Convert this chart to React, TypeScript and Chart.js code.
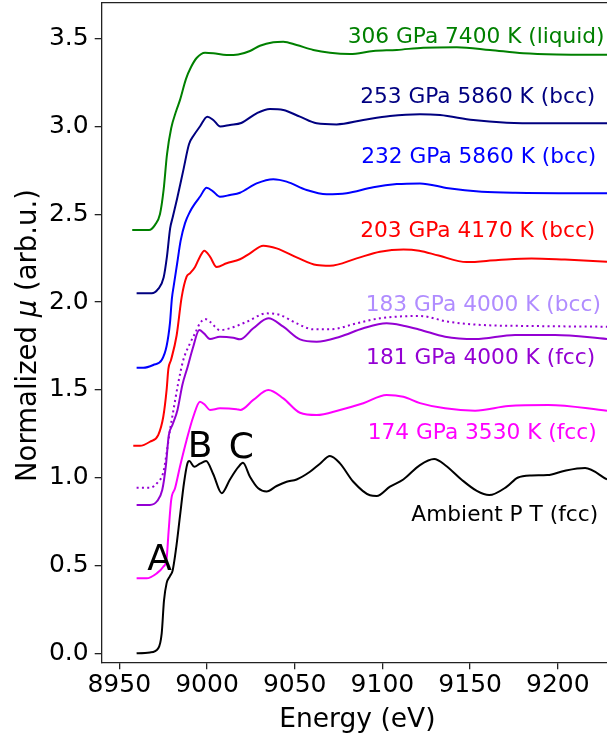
import React, { useEffect, useRef } from "react";
import { Chart, registerables } from "chart.js";

Chart.register(...registerables);

const FONT = '"DejaVu Sans", "Liberation Sans", sans-serif';

// Axis ticks
const xTicks = [8950, 9000, 9050, 9100, 9150, 9200];
const yTicks = [0, 0.5, 1, 1.5, 2, 2.5, 3, 3.5];

// 306 GPa 7400 K (liquid)
const e306 = [8957.4, 8967, 8970.4, 8973.2, 8975.3, 8977.2, 8979.6, 8982.5, 8984.6, 8988, 8991, 8994.1, 8998.9, 9003.6, 9011.2, 9017.8, 9024.5, 9030.2, 9037.8, 9043.5, 9051.1, 9060.6, 9070.1, 9081.5, 9094.8, 9108.2, 9123.3, 9142.4, 9161.3, 9180.3, 9199.4, 9228];
const mu306 = [2.41, 2.41, 2.44, 2.5, 2.64, 2.84, 2.99, 3.09, 3.15, 3.27, 3.34, 3.39, 3.42, 3.417, 3.407, 3.41, 3.43, 3.46, 3.48, 3.483, 3.464, 3.436, 3.42, 3.413, 3.43, 3.436, 3.449, 3.452, 3.436, 3.417, 3.41, 3.408];

// 253 GPa 5860 K (bcc)
const e253 = [8959.9, 8968.5, 8972.2, 8975.3, 8977.2, 8979, 8980.4, 8983, 8986.5, 8989.8, 8992.5, 8996, 9000.2, 9003.6, 9007.6, 9013.1, 9019.5, 9028.3, 9035.9, 9043.5, 9053, 9062.5, 9073.9, 9089.1, 9104.3, 9121.4, 9132.8, 9151.8, 9170.9, 9189.9, 9228];
const mu253 = [2.05, 2.05, 2.075, 2.14, 2.26, 2.42, 2.48, 2.59, 2.75, 2.9, 2.95, 3.0, 3.056, 3.037, 3.0, 3.009, 3.02, 3.075, 3.1, 3.094, 3.056, 3.018, 3.012, 3.037, 3.06, 3.07, 3.065, 3.037, 3.022, 3.018, 3.018];

// 232 GPa 5860 K (bcc)
const e232 = [8959.9, 8963.7, 8969.4, 8974.2, 8977, 8978.9, 8980, 8981, 8983, 8985, 8987.5, 8990.3, 8993.2, 8996, 8999.8, 9003.6, 9007.4, 9013.1, 9018.8, 9028.3, 9037.8, 9045.4, 9056.8, 9068.2, 9079.6, 9094.8, 9108.2, 9121.4, 9137.6, 9156.6, 9175.6, 9228];
const mu232 = [1.626, 1.626, 1.642, 1.67, 1.75, 1.88, 2.02, 2.09, 2.22, 2.35, 2.45, 2.515, 2.562, 2.6, 2.651, 2.629, 2.6, 2.61, 2.623, 2.676, 2.7, 2.686, 2.638, 2.614, 2.62, 2.654, 2.672, 2.676, 2.648, 2.629, 2.623, 2.62];

// 203 GPa 4170 K (bcc)
const e203 = [8958, 8961.8, 8967.5, 8972.2, 8975.1, 8977, 8978, 8979.5, 8982.7, 8985.6, 8988.4, 8990.3, 8993.2, 8996, 8998.5, 9001.7, 9005.5, 9011.2, 9018.8, 9024.5, 9032.1, 9039.7, 9051.1, 9062.5, 9070.1, 9085.3, 9098.6, 9112, 9121, 9132, 9148, 9166, 9185, 9204, 9228];
const mu203 = [1.182, 1.182, 1.205, 1.243, 1.347, 1.5, 1.62, 1.67, 1.81, 2.03, 2.145, 2.164, 2.2, 2.259, 2.293, 2.259, 2.2, 2.221, 2.244, 2.278, 2.321, 2.306, 2.255, 2.211, 2.207, 2.249, 2.287, 2.3, 2.293, 2.265, 2.228, 2.24, 2.249, 2.242, 2.23];

// 183 GPa 4000 K (bcc) - dotted
const e183 = [8959.9, 8967.5, 8972.2, 8975.1, 8977, 8978.9, 8980.8, 8983.6, 8986.5, 8990.3, 8993.2, 8996, 8998.9, 9001.7, 9007.4, 9013.1, 9022.6, 9034, 9041.6, 9051.1, 9060.6, 9070.1, 9085.3, 9098.6, 9121.4, 9137.6, 9156.6, 9185.1, 9228];
const mu183 = [0.943, 0.943, 0.977, 1.03, 1.14, 1.27, 1.38, 1.538, 1.67, 1.765, 1.822, 1.879, 1.904, 1.888, 1.841, 1.851, 1.888, 1.936, 1.927, 1.879, 1.845, 1.845, 1.879, 1.908, 1.921, 1.888, 1.87, 1.864, 1.86];

// 181 GPa 4000 K (fcc)
const e181 = [8959.9, 8967.5, 8971.5, 8974.5, 8976.6, 8978.2, 8980.3, 8983.2, 8986, 8989, 8992, 8995.6, 8998.3, 9001.7, 9007.4, 9015, 9018.8, 9026.4, 9035, 9043.5, 9053, 9062.5, 9075.8, 9089.1, 9102.4, 9111.9, 9121.4, 9135.7, 9152.8, 9175.6, 9198.4, 9228];
const mu181 = [0.845, 0.845, 0.866, 0.93, 1.07, 1.24, 1.3, 1.386, 1.53, 1.632, 1.74, 1.841, 1.822, 1.79, 1.803, 1.797, 1.788, 1.851, 1.908, 1.86, 1.788, 1.775, 1.803, 1.851, 1.879, 1.866, 1.843, 1.803, 1.79, 1.813, 1.813, 1.79];

// 174 GPa 3530 K (fcc)
const e174 = [8959.9, 8965.6, 8971.3, 8975.1, 8977, 8978.1, 8979.6, 8981.8, 8984.6, 8988.4, 8992.2, 8996, 8998.9, 9001.7, 9007.4, 9016.9, 9019, 9026.4, 9035, 9043.5, 9053, 9062.5, 9075.8, 9089.1, 9102.4, 9111.9, 9121.4, 9135.7, 9152.8, 9171.8, 9194.6, 9228];
const mu174 = [0.427, 0.427, 0.455, 0.493, 0.54, 0.69, 0.873, 0.94, 1.063, 1.215, 1.347, 1.433, 1.414, 1.386, 1.395, 1.39, 1.386, 1.443, 1.5, 1.452, 1.37, 1.357, 1.386, 1.424, 1.471, 1.461, 1.425, 1.395, 1.382, 1.408, 1.414, 1.382];

// Ambient P T (fcc)
const eAmb = [8959.9, 8967.5, 8972.2, 8974.2, 8975.5, 8977, 8978.9, 8980.4, 8982.3, 8984.6, 8986.9, 8988.8, 8989.9, 8992.8, 8996, 8999.5, 9003.6, 9008.4, 9013.1, 9017.8, 9020.5, 9024.5, 9029.2, 9034, 9039.7, 9045.4, 9051.1, 9058.7, 9064.4, 9070.1, 9075.8, 9083.4, 9092.9, 9096.7, 9104.3, 9111.9, 9121.4, 9129.5, 9136, 9145, 9153.8, 9160.8, 9170.9, 9177, 9185, 9194, 9204, 9215.5, 9228];
const muAmb = [0, 0.005, 0.028, 0.114, 0.3, 0.4, 0.44, 0.47, 0.59, 0.78, 0.97, 1.08, 1.095, 1.062, 1.08, 1.095, 1.02, 0.912, 0.99, 1.06, 1.085, 1.006, 0.94, 0.922, 0.953, 0.977, 0.99, 1.034, 1.08, 1.124, 1.082, 0.977, 0.9, 0.896, 0.949, 0.99, 1.072, 1.106, 1.07, 0.99, 0.925, 0.901, 0.949, 1.0, 1.013, 1.015, 1.04, 1.055, 0.99];

// Curve labels (text, energy, mu at baseline-left)
const labelTexts = ["306 GPa 7400 K (liquid)", "253 GPa 5860 K (bcc)", "232 GPa 5860 K (bcc)", "203 GPa 4170 K (bcc)", "183 GPa 4000 K (bcc)", "181 GPa 4000 K (fcc)", "174 GPa 3530 K (fcc)", "Ambient P T (fcc)"];
const labelE = [9080.2, 9087.3, 9087.9, 9087.3, 9090.5, 9090.7, 9091.6, 9116.5];
const labelMu = [3.474, 3.132, 2.79, 2.369, 1.951, 1.646, 1.219, 0.755];
const labelColors = ["#008000", "#000080", "#0000ff", "#ff0000", "#b08cff", "#9400d3", "#ff00ff", "#000000"];

// Feature letters
const featTexts = ["A", "B", "C"];
const featE = [8965.9, 8989.0, 9012.4];
const featMu = [0.474, 1.118, 1.112];

const zip = (e: number[], m: number[]) => e.slice(0, Math.min(e.length, m.length)).map((x, i) => ({ x, y: m[i] }));

const overlay = {
  id: "overlay",
  afterDraw(chart: any) {
    const { ctx, chartArea, scales } = chart;
    const xs = scales.x;
    const ys = scales.y;
    ctx.save();
    // top spine
    ctx.strokeStyle = "#222";
    ctx.lineWidth = 1.3;
    ctx.beginPath();
    ctx.moveTo(chartArea.left, chartArea.top);
    ctx.lineTo(chartArea.right, chartArea.top);
    ctx.stroke();

    ctx.textAlign = "left";
    ctx.textBaseline = "alphabetic";
    ctx.font = `21.7px ${FONT}`;
    labelTexts.forEach((t, i) => {
      ctx.fillStyle = labelColors[i];
      ctx.fillText(t, xs.getPixelForValue(labelE[i]), ys.getPixelForValue(labelMu[i]));
    });
    ctx.font = `36px ${FONT}`;
    ctx.fillStyle = "#000";
    featTexts.forEach((t, i) => {
      ctx.fillText(t, xs.getPixelForValue(featE[i]), ys.getPixelForValue(featMu[i]));
    });

    // x title
    ctx.font = `26.5px ${FONT}`;
    ctx.textAlign = "center";
    ctx.fillText("Energy (eV)", (chartArea.left + chartArea.right) / 2 + 3, chart.height - 8);

    // y title with italic mu
    const cy = (chartArea.top + chartArea.bottom) / 2 + 3;
    ctx.translate(36, cy);
    ctx.rotate(-Math.PI / 2);
    ctx.textAlign = "left";
    const parts: [string, string][] = [
      ["Normalized ", `27.5px ${FONT}`],
      ["\u03bc", `italic 27.5px ${FONT}`],
      [" (arb.u.)", `27.5px ${FONT}`],
    ];
    let total = 0;
    parts.forEach(([t, f]) => { ctx.font = f; total += ctx.measureText(t).width; });
    let px = -total / 2;
    parts.forEach(([t, f]) => { ctx.font = f; ctx.fillText(t, px, 0); px += ctx.measureText(t).width; });
    ctx.restore();
  },
};

export default function App() {
  const ref = useRef<HTMLCanvasElement>(null);
  useEffect(() => {
    const canvas = ref.current;
    if (!canvas) return;
    const line = (data: any, color: string, dash?: number[]) => ({
      data,
      borderColor: color,
      backgroundColor: color,
      borderWidth: 2,
      borderDash: dash || [],
      pointRadius: 0,
      fill: false,
      cubicInterpolationMode: "monotone" as const,
    });
    const chart = new Chart(canvas, {
      type: "line",
      data: {
        datasets: [
          line(zip(eAmb, muAmb), "#000000"),
          line(zip(e174, mu174), "#ff00ff"),
          line(zip(e181, mu181), "#9400d3"),
          line(zip(e183, mu183), "#9400d3", [2, 3.3]),
          line(zip(e203, mu203), "#ff0000"),
          line(zip(e232, mu232), "#0000ff"),
          line(zip(e253, mu253), "#000080"),
          line(zip(e306, mu306), "#008000"),
        ] as any,
      },
      options: {
        animation: false,
        responsive: false,
        maintainAspectRatio: false,
        layout: { padding: { top: 2.7, left: 0, right: 0, bottom: 0 } },
        plugins: { legend: { display: false }, tooltip: { enabled: false } },
        scales: {
          x: {
            type: "linear",
            min: 8940,
            max: 9228,
            afterBuildTicks: (s: any) => { s.ticks = xTicks.map((v) => ({ value: v })); },
            afterFit: (s: any) => { s.height = 72.7; s.paddingLeft = 0; s.paddingRight = 0; },
            ticks: {
              autoSkip: false,
              maxRotation: 0,
              padding: 1,
              color: "#000",
              font: { family: FONT, size: 25 },
              callback: (v: any) => String(v),
            },
            grid: { drawOnChartArea: false, drawTicks: true, tickLength: 7, color: "#222", lineWidth: 1.3 },
            border: { display: true, color: "#222", width: 1.3 },
          },
          y: {
            type: "linear",
            min: -0.051,
            max: 3.705,
            afterBuildTicks: (s: any) => { s.ticks = yTicks.map((v) => ({ value: v })); },
            afterFit: (s: any) => { s.width = 101.7; s.paddingTop = 0; s.paddingBottom = 0; },
            ticks: {
              autoSkip: false,
              padding: 6,
              color: "#000",
              font: { family: FONT, size: 25 },
              callback: (v: any) => Number(v).toFixed(1),
            },
            grid: { drawOnChartArea: false, drawTicks: true, tickLength: 7, color: "#222", lineWidth: 1.3 },
            border: { display: true, color: "#222", width: 1.3 },
          },
        },
      },
      plugins: [overlay],
    });
    return () => chart.destroy();
  }, []);
  return (
    <div style={{ position: "absolute", left: 0, top: 0, width: 607, height: 735, background: "#fff" }}>
      <canvas ref={ref} width={607} height={735} style={{ width: 607, height: 735, display: "block" }} />
    </div>
  );
}
